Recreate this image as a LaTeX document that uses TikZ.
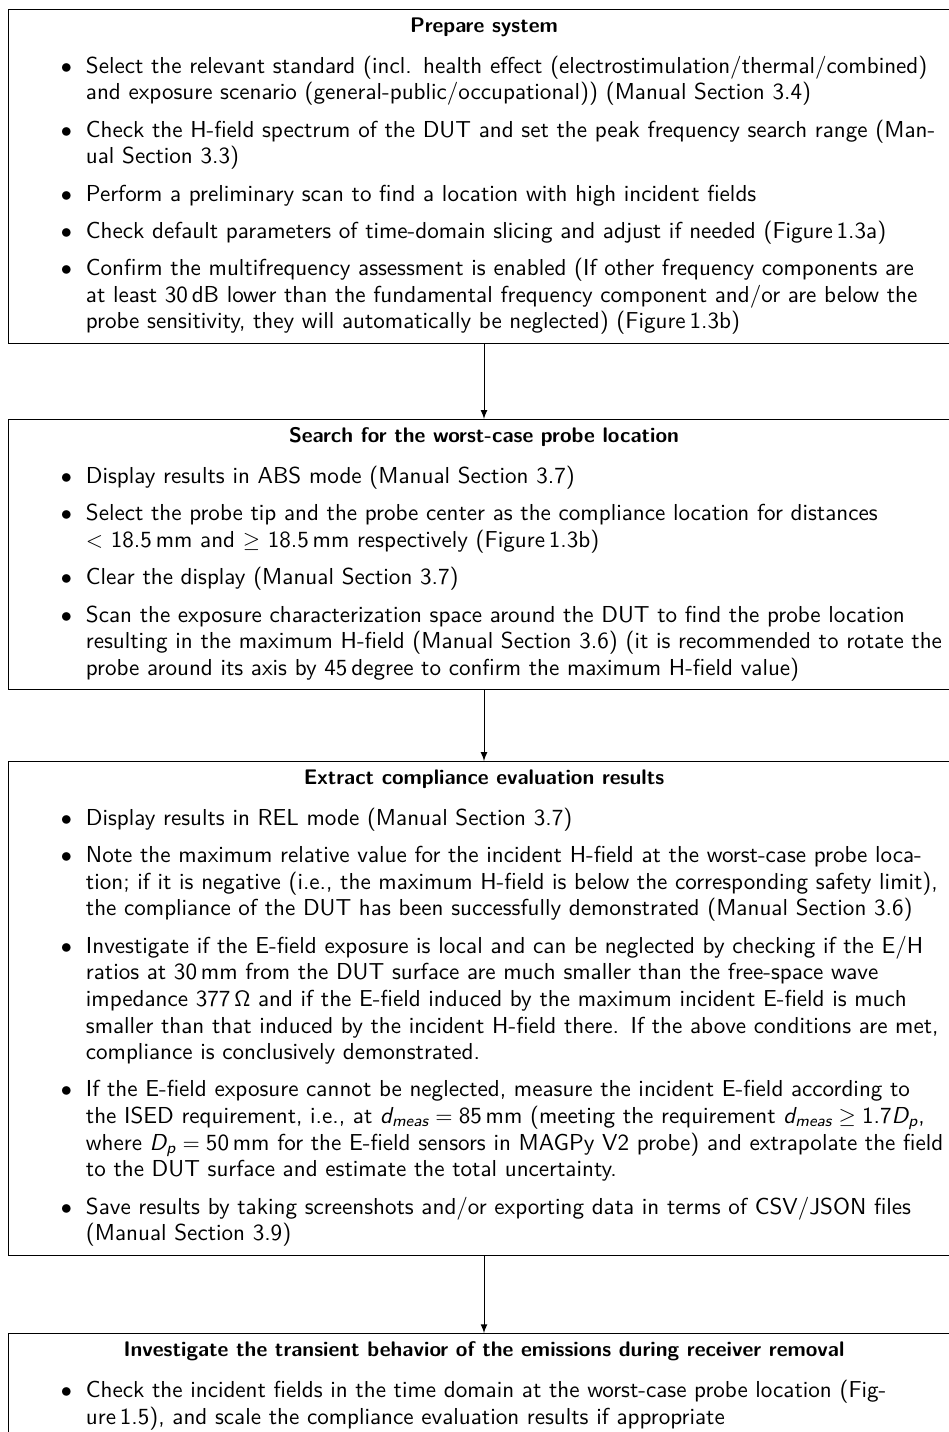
\documentclass[tikz,border=0pt]{standalone}
\usepackage{amsmath}
\renewcommand{\familydefault}{\sfdefault}
\newcommand{\dmeas}{\textit{d}_{\textit{meas}}}
\newcommand{\Dp}{\textit{D}_{\textit{p}}}
\newcommand{\steptitle}[1]{{\centering\fontsize{9.5pt}{12pt}\bfseries #1\par}}
\newenvironment{steplist}{%
  \begin{list}{$\bullet$}{%
    \setlength{\leftmargin}{31.35pt}%
    \setlength{\labelsep}{6.3pt}%
    \setlength{\labelwidth}{\dimexpr\leftmargin-\labelsep\relax}%
    \setlength{\topsep}{6.3pt}%
    \setlength{\partopsep}{0pt}%
    \setlength{\itemsep}{0pt}%
    \setlength{\parsep}{4.8pt}}}%
  {\end{list}}
\tikzset{stepbox/.style={draw,anchor=north,text width=421.3pt,inner xsep=3.33pt,inner ysep=3.8pt,
  font=\fontsize{10.4pt}{12pt}\selectfont}}
\begin{document}
\begin{tikzpicture}
\useasboundingbox (0,0) rectangle (15.008,-22.669);
\node[stepbox] (prepare) at (7.662,-0.142) {\steptitle{Prepare system}
\begin{steplist}
\item Select the relevant standard (incl. health effect (electrostimulation/thermal/combined)\newline
and exposure scenario (general-public/occupational)) (Manual Section 3.4)
\item Check the H-field spectrum of the DUT and set the peak frequency search range (Man-\newline
ual Section 3.3)
\item Perform a preliminary scan to find a location with high incident fields
\item Check default parameters of time-domain slicing and adjust if needed (Figure\,1.3a)
\item Confirm the multifrequency assessment is enabled (If other frequency components are\newline
at least 30\,dB lower than the fundamental frequency component and/or are below the\newline
probe sensitivity, they will automatically be neglected) (Figure\,1.3b)
\end{steplist}};
\node[stepbox] (search) at (7.662,-6.632) {\steptitle{Search for the worst-case probe location}
\begin{steplist}
\item Display results in ABS mode (Manual Section 3.7)
\item Select the probe tip and the probe center as the compliance location for distances\newline
$<$ 18.5\,mm and $\geq$ 18.5\,mm respectively (Figure\,1.3b)
\item Clear the display (Manual Section 3.7)
\item Scan the exposure characterization space around the DUT to find the probe location\newline
resulting in the maximum H-field (Manual Section 3.6) (it is recommended to rotate the\newline
probe around its axis by 45\,degree to confirm the maximum H-field value)
\end{steplist}};
\node[stepbox] (extract) at (7.662,-12.048) {\steptitle{Extract compliance evaluation results}
\begin{steplist}
\item Display results in REL mode (Manual Section 3.7)
\item Note the maximum relative value for the incident H-field at the worst-case probe loca-\newline
tion; if it is negative (i.e., the maximum H-field is below the corresponding safety limit),\newline
the compliance of the DUT has been successfully demonstrated (Manual Section 3.6)
\item Investigate if the E-field exposure is local and can be neglected by checking if the E/H\newline
ratios at 30\,mm from the DUT surface are much smaller than the free-space wave\newline
impedance 377\,$\mathsf{\Omega}$ and if the E-field induced by the maximum incident E-field is much\newline
smaller than that induced by the incident H-field there. If the above conditions are met,\newline
compliance is conclusively demonstrated.
\item If the E-field exposure cannot be neglected, measure the incident E-field according to\newline
the ISED requirement, i.e., at $\dmeas = \text{85\,mm}$ (meeting the requirement $\dmeas \geq \text{1.7}\Dp$,\newline
where $\Dp = \text{50\,mm}$ for the E-field sensors in MAGPy V2 probe) and extrapolate the field\newline
to the DUT surface and estimate the total uncertainty.
\item Save results by taking screenshots and/or exporting data in terms of CSV/JSON files\newline
(Manual Section 3.9)
\end{steplist}};
\node[stepbox] (transient) at (7.662,-21.105) {\steptitle{Investigate the transient behavior of the emissions during receiver removal}
\begin{steplist}
\item Check the incident fields in the time domain at the worst-case probe location (Fig-\newline
ure\,1.5), and scale the compliance evaluation results if appropriate
\end{steplist}};
\draw[-latex] (prepare) -- (search);
\draw[-latex] (search) -- (extract);
\draw[-latex] (extract) -- (transient);
\end{tikzpicture}
\end{document}
